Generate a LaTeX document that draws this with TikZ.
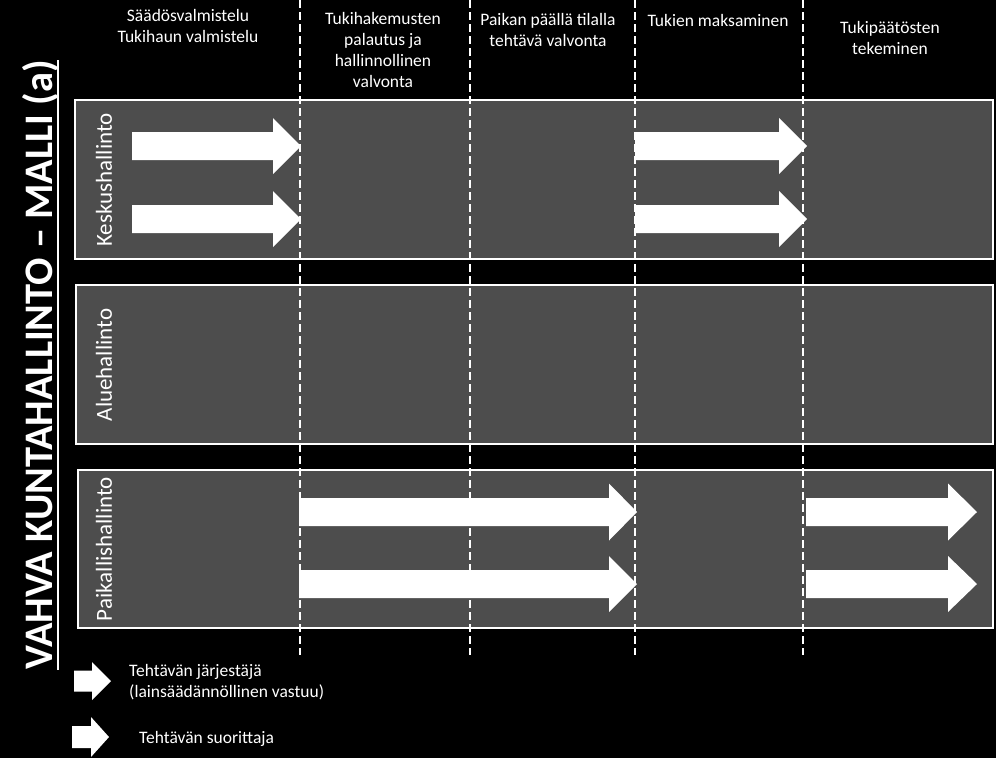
\documentclass[tikz,border=0pt]{standalone}
\usepackage{fontspec}
\setmainfont{Carlito}
\definecolor{bandgray}{HTML}{4D4D4D}
\newcommand\blockarr[6]{% x1, tip x, y centre, shaft half, head half, head length
  \fill[white] (#1,#3-#4) -- (#2-#6,#3-#4) -- (#2-#6,#3-#5) -- (#2,#3)
    -- (#2-#6,#3+#5) -- (#2-#6,#3+#4) -- (#1,#3+#4) -- cycle;}
\begin{document}
\begin{tikzpicture}[x=1pt,y=-1pt,
  bandbox/.style={draw=white,line width=2pt,fill=bandgray},
  divider/.style={draw=white,line width=2pt,dash pattern=on 8pt off 4pt},
  head/.style={text=white,inner sep=0pt,align=center,anchor=north,
    font=\fontsize{17.5}{21}\selectfont},
  legendtext/.style={text=white,inner sep=0pt,align=left,anchor=north west,
    font=\fontsize{17.5}{21}\selectfont},
  rowlabel/.style={text=white,inner sep=0pt,rotate=90,anchor=center,
    font=\fontsize{23}{28}\selectfont},
  titletext/.style={text=white,inner sep=0pt,rotate=90,anchor=base,
    font=\bfseries\fontsize{40.5}{48}\selectfont}]
\fill[black] (0,0) rectangle (996,758);
\useasboundingbox (0,0) rectangle (996,758);
% bands
\draw[bandbox] (75,100) rectangle (993,259);
\draw[bandbox] (76,285) rectangle (993,444);
\draw[bandbox] (78,470) rectangle (993,628);
% dividers
\foreach \xx in {300,470,635,803} \draw[divider] (\xx,0) -- (\xx,655);
% arrows
\blockarr{132}{301}{146}{14}{28}{28}
\blockarr{132}{301}{219}{14}{28}{28}
\blockarr{635}{807}{146}{14}{28}{28}
\blockarr{635}{807}{219}{14}{28}{28}
\blockarr{299}{637}{512}{14}{28.5}{28}
\blockarr{299}{637}{584}{14}{28}{28}
\blockarr{806}{977}{512}{14}{28.5}{29}
\blockarr{806}{977}{584}{14}{28}{29}
\blockarr{74}{111}{681}{10.5}{19}{19}
\blockarr{72}{109}{737}{11}{20}{18}
% headers
\node[head] (h1) at (188,9) {Säädösvalmistelu\\Tukihaun valmistelu};
\node[head] (h2) at (383,12) {Tukihakemusten\\palautus ja\\hallinnollinen\\valvonta};
\node[head] (h3) at (548,13) {Paikan päällä tilalla\\tehtävä valvonta};
\node[head] (h4) at (718,14) {Tukien maksaminen};
\node[head] (h5) at (890,21) {Tukipäätösten\\tekeminen};
% row labels
\node[rowlabel] (r1) at (104,180) {Keskushallinto};
\node[rowlabel] (r2) at (104,365) {Aluehallinto};
\node[rowlabel] (r3) at (104,549) {Paikallishallinto};
% title
\node[titletext] (title) at (52.5,365) {VAHVA KUNTAHALLINTO – MALLI (a)};
\draw[white,line width=2pt] ([xshift=5pt]title.base west) -- ([xshift=5pt]title.base east);
% legend
\node[legendtext] (l1) at (129,664) {Tehtävän järjestäjä\\(lainsäädännöllinen vastuu)};
\node[legendtext] (l2) at (139,731) {Tehtävän suorittaja};
\end{tikzpicture}
\end{document}
